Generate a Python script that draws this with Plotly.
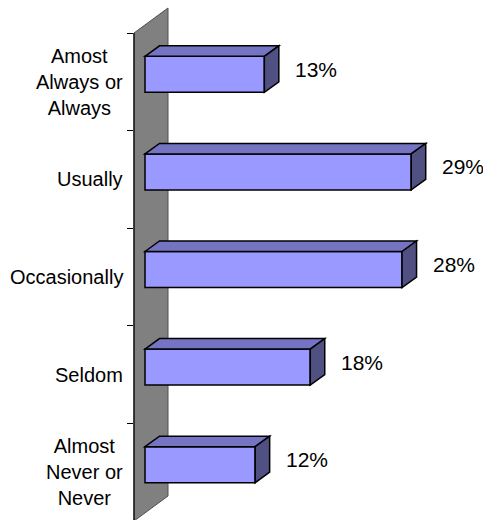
import plotly.graph_objects as go

# Survey responses, top to bottom
categories = [
    "Amost<br>Always or<br>Always",
    "Usually",
    "Occasionally",
    "Seldom",
    "Almost<br>Never or<br>Never",
]
values = [13, 29, 28, 18, 12]
value_labels = ["13%", "29%", "28%", "18%", "12%"]

W, H = 483, 520
FRONT = "#9999FF"
TOP = "#7474C2"
SIDE = "#505082"
WALL = "#808080"

# pixel geometry of the pseudo-3D frame
px_per_unit = 9.18
axis_left_px = 134
zero_px = 145
band_top_px = 33
band_px = 97.6

x0 = -(zero_px - axis_left_px) / px_per_unit
x1 = x0 + (W - axis_left_px) / px_per_unit
y_top = -0.5 - band_top_px / band_px
y_bot = -0.5 + (H - band_top_px) / band_px

bar_w = 36 / band_px
bar_shift = 7.5 / band_px
offset = -bar_shift - bar_w / 2
dx = 14.5 / px_per_unit
dy = 10.5 / band_px

ypos = list(range(len(categories)))

fig = go.Figure()
fig.add_trace(go.Bar(
    y=ypos, x=values, orientation="h",
    width=bar_w, offset=offset,
    marker=dict(color=FRONT, line=dict(color="black", width=1.5)),
    hoverinfo="skip",
))

shapes = []


def px(x):
    return x / W


def py(y):
    return 1 - y / H


# gray side wall
shapes.append(dict(
    type="path", xref="paper", yref="paper", layer="below",
    path=(f"M {px(134)} {py(33)} L {px(168)} {py(8)} L {px(168)} {py(496)} "
          f"L {px(134)} {py(521)} Z"),
    fillcolor=WALL, line=dict(color="#505050", width=1),
))
shapes.append(dict(
    type="line", xref="paper", yref="paper", layer="below",
    x0=px(134), x1=px(134), y0=py(33), y1=py(521),
    line=dict(color="black", width=1.2),
))

# top and side faces of each bar
for i, v in enumerate(values):
    yt = i + offset
    yb = yt + bar_w
    shapes.append(dict(
        type="path", xref="x", yref="y", layer="above",
        path=(f"M 0 {yt} L {dx} {yt - dy} L {v + dx} {yt - dy} L {v} {yt} Z"),
        fillcolor=TOP, line=dict(color="black", width=1.5),
    ))
    shapes.append(dict(
        type="path", xref="x", yref="y", layer="above",
        path=(f"M {v} {yt} L {v + dx} {yt - dy} L {v + dx} {yb - dy} L {v} {yb} Z"),
        fillcolor=SIDE, line=dict(color="black", width=1.5),
    ))

FONT = "Liberation Sans, Arial, sans-serif"
annotations = []
for i, (cat, v, lab) in enumerate(zip(categories, values, value_labels)):
    annotations.append(dict(
        xref="paper", yref="y", x=125 / W, y=i,
        text=cat, showarrow=False, xanchor="right", yanchor="middle",
        align="center",
        font=dict(family=FONT, size=20, color="black"),
    ))
    annotations.append(dict(
        xref="x", yref="y", x=v, y=i - bar_shift,
        text=lab, showarrow=False, xanchor="left", yanchor="middle",
        xshift=29, yshift=5,
        font=dict(family=FONT, size=21, color="black"),
    ))

fig.update_layout(
    width=W, height=H,
    margin=dict(l=0, r=0, t=0, b=0),
    paper_bgcolor="white", plot_bgcolor="white",
    showlegend=False,
    shapes=shapes,
    annotations=annotations,
    xaxis=dict(domain=[axis_left_px / W, 1], range=[x0, x1],
               visible=False, fixedrange=True),
    yaxis=dict(range=[y_bot, y_top], showgrid=False, zeroline=False,
               showline=False, tickvals=[-0.5, 0.5, 1.5, 2.5, 3.5],
               ticks="outside", ticklen=6, tickcolor="black", tickwidth=1,
               showticklabels=False, fixedrange=True),
)

fig.write_html("out.html")
